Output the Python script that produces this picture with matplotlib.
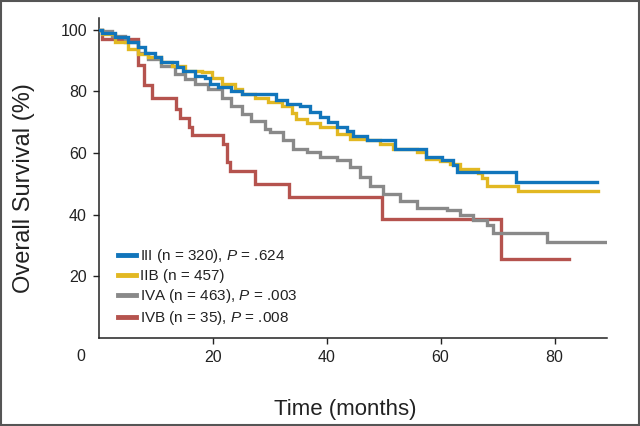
import matplotlib
matplotlib.use('Agg')
import matplotlib.pyplot as plt
from matplotlib.patches import Rectangle

plt.rcParams['font.family'] = ['Liberation Sans', 'DejaVu Sans']
plt.rcParams['mathtext.fontset'] = 'custom'
plt.rcParams['mathtext.it'] = 'Liberation Sans:italic'
plt.rcParams['mathtext.rm'] = 'Liberation Sans'

# Kaplan-Meier curves (months, % surviving)
t_iii = [0, 0.5, 2.9, 5.2, 6.9, 8.1, 9.9, 11.0, 13.7, 14.8, 16.9, 18.6, 19.5, 21.0,
         23.3, 25.1, 31.2, 33.0, 35.3, 37.1, 38.8, 40.3, 41.8, 43.5, 44.7, 47.0,
         52.0, 57.5, 60.2, 62.2, 62.8, 73.3, 87.4]
s_iii = [100, 99.1, 97.5, 95.9, 94.3, 92.6, 91.0, 89.4, 87.8, 86.7, 85.1, 84.2, 82.4, 81.3,
         80.2, 79.3, 77.1, 76.0, 75.1, 73.3, 71.7, 70.0, 68.6, 67.3, 65.4, 64.3,
         61.2, 58.7, 57.8, 56.0, 53.8, 50.6, 50.6]

t_iib = [0, 0.5, 2.9, 5.2, 6.9, 8.7, 11.0, 12.8, 15.1, 18.1, 19.8, 21.6, 23.9, 25.1,
         27.4, 29.8, 32.1, 33.9, 34.7, 36.5, 38.8, 41.8, 44.1, 47.0, 49.4, 51.7, 55.8,
         57.5, 59.9, 61.6, 63.4, 66.5, 67.3, 68.2, 73.6, 87.6]
s_iib = [100, 98.6, 95.9, 93.7, 92.1, 91.0, 89.6, 88.3, 86.7, 86.2, 84.2, 82.4, 80.8, 79.1,
         77.7, 76.7, 75.4, 73.0, 71.1, 69.7, 68.4, 66.3, 64.7, 64.1, 62.8, 61.4, 60.3,
         58.2, 57.4, 56.6, 54.9, 53.5, 51.9, 49.2, 47.6, 47.6]

t_iva = [0, 0.5, 2.3, 4.6, 6.9, 8.7, 11.0, 13.4, 15.1, 16.9, 19.2, 21.6, 23.3, 25.1,
         26.8, 29.2, 30.1, 32.4, 34.1, 36.5, 38.8, 41.8, 44.1, 45.8, 47.6, 49.9, 52.9,
         55.8, 61.1, 63.4, 65.7, 68.1, 69.2, 78.6, 88.8]
s_iva = [100, 99.7, 98.1, 95.9, 92.6, 90.5, 88.3, 85.6, 84.0, 82.4, 80.7, 78.0, 75.4, 72.6,
         70.5, 67.8, 66.8, 64.1, 61.4, 60.3, 58.7, 57.6, 55.4, 52.2, 49.2, 46.7, 44.3,
         42.3, 41.6, 40.0, 38.3, 36.7, 34.0, 31.3, 31.3]

t_ivb = [0, 0.5, 6.9, 8.0, 9.3, 13.6, 14.2, 15.9, 16.3, 21.9, 22.5, 23.0, 27.5, 33.4,
         49.8, 70.6, 82.6]
s_ivb = [100, 97.1, 88.6, 82.0, 78.0, 74.3, 71.4, 68.6, 65.7, 62.9, 57.1, 54.3, 50.0, 45.7,
         38.6, 25.7, 25.7]

labels = [r'III (n = 320), $P$ = .624',
          'IIB (n = 457)',
          r'IVA (n = 463), $P$ = .003',
          r'IVB (n = 35), $P$ = .008']
colors = ['#1175bb', '#e2b822', '#898989', '#b5534e']
x_ticks = [20, 40, 60, 80]
y_ticks = [20, 40, 60, 80, 100]

fig = plt.figure(figsize=(6.4, 4.26), dpi=100)
ax = fig.add_axes([0.1542, 0.2066, 0.7942, 0.7511])

series = [(t_iii, s_iii), (t_iib, s_iib), (t_iva, s_iva), (t_ivb, s_ivb)]
# red underneath, blue on top
for idx in [3, 2, 1, 0]:
    t, s = series[idx]
    ax.plot(t, s, drawstyle='steps-post', color=colors[idx], lw=2.4,
            solid_joinstyle='miter', zorder=3 + (3 - idx))

ax.set_xlim(0, 89.2)
ax.set_ylim(0, 103.8)
ax.set_xticks(x_ticks)
ax.set_yticks(y_ticks)
ax.tick_params(axis='both', labelsize=11.5, length=4.5, width=1, color='#222222',
               labelcolor='#222222', pad=4)
for side in ['top', 'right']:
    ax.spines[side].set_visible(False)
for side in ['left', 'bottom']:
    ax.spines[side].set_linewidth(1.1)
    ax.spines[side].set_color('#222222')

ax.annotate('0', xy=(0, 0), xycoords='data', xytext=(-17.5, -19), textcoords='offset pixels',
            ha='center', va='center', fontsize=11.5, color='#222222', annotation_clip=False)

ax.set_xlabel('Time (months)', fontsize=16, color='#222222')
ax.set_ylabel('Overall Survival (%)', fontsize=17, color='#222222')
ax.xaxis.set_label_coords(0.485, -0.19)
ax.yaxis.set_label_coords(-0.125, 0.47)

handles = [plt.Line2D([], [], color=c, lw=3.5) for c in colors]
leg = ax.legend(handles, labels, loc='upper left', bbox_to_anchor=(0.038, 0.283),
                frameon=False, fontsize=11, handlelength=1.15, handletextpad=0.3,
                labelspacing=0.25, borderpad=0, borderaxespad=0)
for txt in leg.get_texts():
    txt.set_color('#222222')

fig.add_artist(Rectangle((0.0015, 0.0025), 0.997, 0.995, transform=fig.transFigure,
                         fill=False, edgecolor='#555555', lw=1.5))

fig.savefig('out.png', dpi=100)
